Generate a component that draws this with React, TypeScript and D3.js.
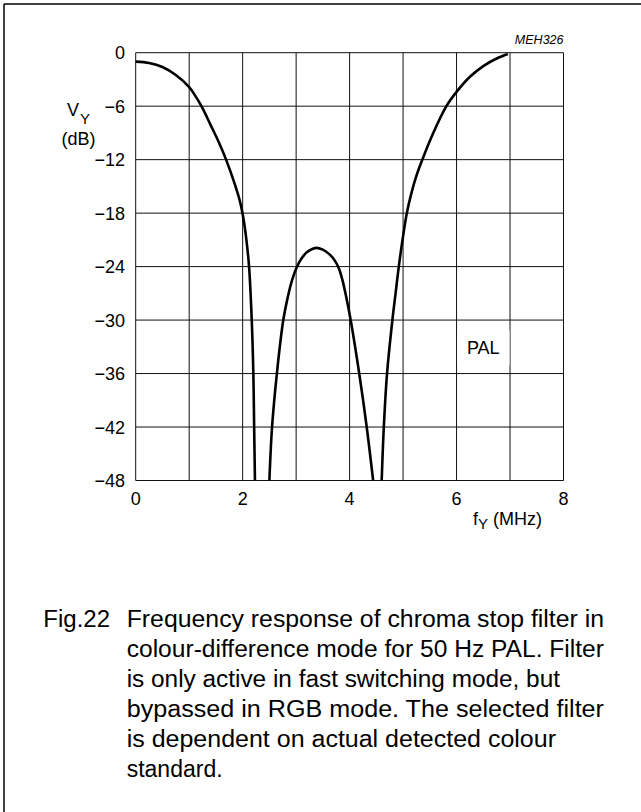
import React from "react";
import * as d3 from "d3";

const xTicks = [0, 2, 4, 6, 8];
const yTicks = [0, -6, -12, -18, -24, -30, -36, -42, -48];
const xGrid = [0, 1, 2, 3, 4, 5, 6, 7, 8];

// main lobe (f MHz, dB)
const seg1: [number, number][] = [
  [0, -1.0], [0.25, -1.15], [0.5, -1.6], [0.75, -2.5], [1.0, -3.85], [1.1, -4.7],
  [1.23, -6.0], [1.4, -8.1], [1.55, -10.0], [1.69, -12], [1.85, -14.7], [1.95, -16.7],
  [2.02, -18.8], [2.07, -21], [2.12, -24], [2.17, -30], [2.2, -36], [2.215, -42], [2.23, -48],
];
// middle lobe
const seg2: [number, number][] = [
  [2.5, -48], [2.55, -42], [2.64, -36], [2.76, -30], [2.86, -27.0], [2.93, -25.4],
  [3.01, -24.1], [3.1, -23.1], [3.2, -22.4], [3.37, -21.9], [3.5, -22.1],
  [3.62, -22.6], [3.72, -23.3], [3.8, -24.2], [3.87, -25.6], [3.94, -27.5],
  [4.02, -30], [4.18, -36], [4.32, -42], [4.44, -48],
];
// upper lobe
const seg3: [number, number][] = [
  [4.6, -48], [4.64, -42], [4.7, -36], [4.8, -30], [4.86, -27], [4.92, -24],
  [5.0, -20.6], [5.07, -18], [5.15, -15.9], [5.25, -13.8], [5.36, -12], [5.55, -9.2],
  [5.81, -6], [6.0, -4.4], [6.25, -2.7], [6.5, -1.5], [6.75, -0.65], [6.96, -0.15],
];

const captionLabel = "Fig.22";
const captionLines = [
  "Frequency response of chroma stop filter in",
  "colour-difference mode for 50 Hz PAL. Filter",
  "is only active in fast switching mode, but",
  "bypassed in RGB mode. The selected filter",
  "is dependent on actual detected colour",
  "standard.",
];
// right end of each caption line (px), 0 = natural width
const captionEnds = [604, 604, 560, 604, 556, 0];

export default function App() {
  const left = 135.7, right = 563.5, top = 52.7, bottom = 480.5;
  const x = d3.scaleLinear().domain([0, 8]).range([left, right]);
  const y = d3.scaleLinear().domain([0, -48]).range([top, bottom]);
  const line = d3
    .line<[number, number]>()
    .x((d) => x(d[0]))
    .y((d) => y(d[1]))
    .curve(d3.curveCatmullRom.alpha(0.5));
  const font = "'Liberation Sans', Arial, Helvetica, sans-serif";
  const capX = 126.7;
  return (
    <svg
      width={641}
      height={812}
      style={{ position: "absolute", left: 0, top: 0, background: "#fff" }}
      fontFamily={font}
    >
      <rect x={0} y={0} width={641} height={812} fill="#fff" />
      <line x1={4} y1={4} x2={641} y2={4} stroke="#000" strokeWidth={1.5} />
      <line x1={4} y1={4} x2={4} y2={812} stroke="#000" strokeWidth={1.5} />

      {xGrid.map((v) => (
        <line key={"gx" + v} x1={x(v)} x2={x(v)} y1={top} y2={bottom} stroke="#111" strokeWidth={1} />
      ))}
      {yTicks.map((v) => (
        <line key={"gy" + v} x1={left} x2={right} y1={y(v)} y2={y(v)} stroke="#111" strokeWidth={1} />
      ))}

      {/* PAL label box */}
      <rect x={x(6) + 0.5} y={y(-31.1)} width={x(7) - x(6) - 1} height={y(-35.1) - y(-31.1)} fill="#fff" />
      <text x={(x(6) + x(7)) / 2} y={354} fontSize={18} textAnchor="middle">PAL</text>

      {[seg1, seg2, seg3].map((s, i) => (
        <path key={i} d={line(s) || ""} fill="none" stroke="#000" strokeWidth={2.6} />
      ))}

      {yTicks.map((v) => (
        <text key={"ty" + v} x={125} y={y(v) + 6.5} fontSize={18} textAnchor="end">
          {v === 0 ? "0" : "\u2212" + Math.abs(v)}
        </text>
      ))}
      {xTicks.map((v) => (
        <text key={"tx" + v} x={x(v)} y={505} fontSize={18} textAnchor="middle">
          {v}
        </text>
      ))}

      <text x={67} y={116} fontSize={18}>V</text>
      <text x={80} y={124} fontSize={15}>Y</text>
      <text x={61.5} y={145} fontSize={18}>(dB)</text>

      <text x={473} y={525} fontSize={18}>
        f<tspan fontSize={15} dy={4}>Y</tspan>
        <tspan dy={-4}> (MHz)</tspan>
      </text>

      <text x={563.5} y={44} fontSize={12.5} fontStyle="italic" textAnchor="end">MEH326</text>

      <text x={43.3} y={627} fontSize={23} textLength={66.7} lengthAdjust="spacingAndGlyphs">{captionLabel}</text>
      {captionLines.map((t, i) => (
        <text
          key={"c" + i}
          x={capX}
          y={627 + i * 30}
          fontSize={23}
          {...(captionEnds[i] ? { textLength: captionEnds[i] - capX, lengthAdjust: "spacingAndGlyphs" } : {})}
        >
          {t}
        </text>
      ))}
    </svg>
  );
}
